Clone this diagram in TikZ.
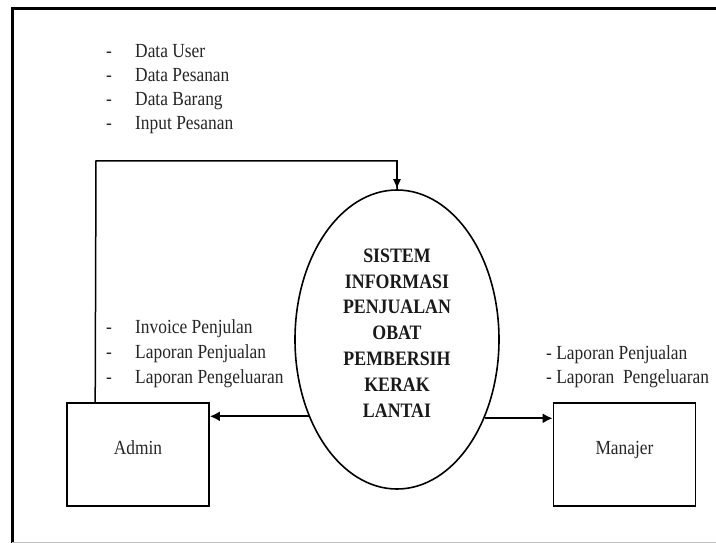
\documentclass[tikz,border=0pt]{standalone}
\usepackage{fontspec}
\setmainfont{Liberation Serif}[FakeStretch=0.87]
\usetikzlibrary{shapes.geometric,arrows.meta}
\tikzset{
  txt/.style={font=\fontsize{20}{24}\selectfont, inner sep=0pt, anchor=base west, text=black!85},
  lbl/.style={font=\fontsize{20}{24}\selectfont, inner sep=0pt, anchor=base, text=black!85},
  box/.style={draw, line width=1.6pt, minimum width=142pt, minimum height=103pt, inner sep=0pt},
  flow/.style={line width=1.5pt},
  arr/.style={line width=2pt, -{Latex[length=10pt,width=10pt]}},
  proctxt/.style={font=\bfseries\fontsize{20.5}{25.8}\selectfont, align=center, inner sep=0pt, text=black!90}
}
\begin{document}
\begin{tikzpicture}[x=1pt,y=-1pt]
\useasboundingbox (0,0) rectangle (716,543);
% frame
\draw[line width=3pt] (12,543) -- (12,9) -- (716,9);
\draw[line width=1pt, gray!50] (12,542) -- (716,542);
% top list (baselines)
\node[txt] (d1) at (106,58) {-};
\node[txt] (t1) at (135,58) {Data User};
\node[txt] (d2) at (106,82) {-};
\node[txt] (t2) at (135,82) {Data Pesanan};
\node[txt] (d3) at (106,106) {-};
\node[txt] (t3) at (135,106) {Data Barang};
\node[txt] (d4) at (106,130) {-};
\node[txt] (t4) at (135,130) {Input Pesanan};
% admin list
\node[txt] (a1d) at (106,333) {-};
\node[txt] (a1) at (135,333) {Invoice Penjulan};
\node[txt] (a2d) at (106,358) {-};
\node[txt] (a2) at (135,358) {Laporan Penjualan};
\node[txt] (a3d) at (106,383) {-};
\node[txt] (a3) at (135,383) {Laporan Pengeluaran};
% manajer list
\node[txt] (m1) at (546,359) {- Laporan Penjualan};
\node[txt] (m2) at (546,383) {- Laporan\ \ Pengeluaran};
% boxes
\node[box] (admin) at (138,454.5) {};
\node[lbl] (admintxt) at (138,454) {Admin};
\node[box] (manajer) at (624.5,454.5) {};
\node[lbl] (manajertxt) at (624.5,454) {Manajer};
% process
\node[ellipse, draw, line width=1.6pt, minimum width=204pt, minimum height=299pt, inner sep=0pt] (proc) at (397,339.5) {};
\node[proctxt] (proctext) at (397,333) {SISTEM\\INFORMASI\\PENJUALAN\\OBAT\\PEMBERSIH\\KERAK\\LANTAI};
% connectors
\coordinate (fbtop) at (96,161);
\draw[flow] ([xshift=29pt]admin.north west) -- (fbtop) -| (proc.north);
\draw[flow, -{Latex[length=10pt,width=8pt]}] (fbtop -| proc.north) -- (proc.north);
\draw[arr] (proc.221) -- (proc.221 -| admin.east);
\draw[arr] (proc.318) -- (proc.318 -| manajer.west);
\end{tikzpicture}
\end{document}
